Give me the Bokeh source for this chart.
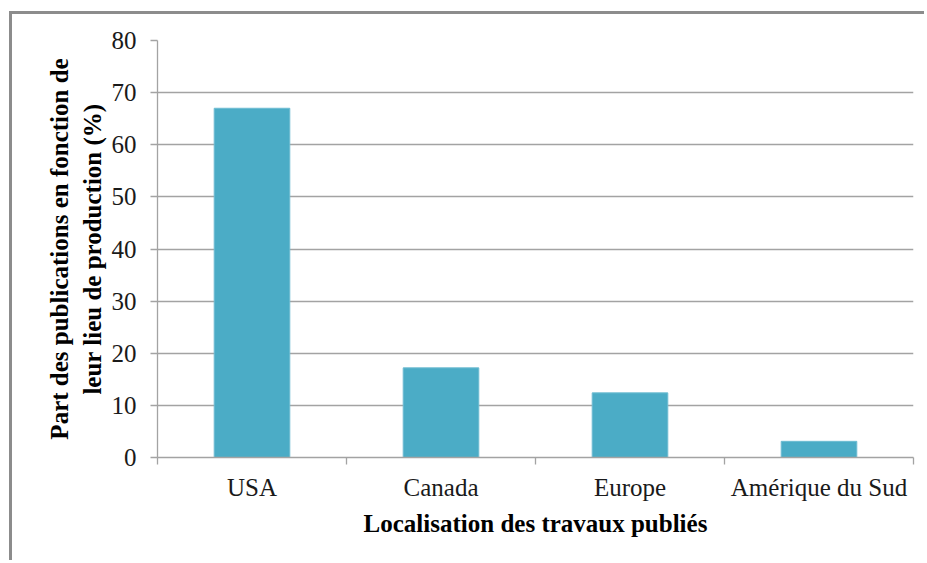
from bokeh.plotting import figure
from bokeh.models import Range1d, LinearAxis, FixedTicker, ColumnDataSource
from bokeh.embed import file_html
from bokeh.resources import INLINE

categories = ["USA", "Canada", "Europe", "Amérique du Sud"]
shares = [67.0, 17.2, 12.4, 3.1]
y_ticks = [0, 10, 20, 30, 40, 50, 60, 70, 80]

FONT = "Liberation Serif"
GRID = "#a3a3a3"
BAR = "#4BACC6"

n = len(categories)
centers = [i + 0.5 for i in range(n)]
edges = list(range(n + 1))

p = figure(width=915, height=549,
           x_range=Range1d(0, n),
           y_range=Range1d(0, 80),
           x_axis_location=None,
           output_backend="svg", toolbar_location=None,
           min_border_left=145, min_border_right=14,
           min_border_top=26, min_border_bottom=106)
p.styles = {"margin-left": "9px", "margin-top": "11px",
            "border-left": "3px solid #8c8c8c",
            "border-top": "3px solid #8c8c8c"}
p.outline_line_color = None
p.background_fill_color = "white"
p.border_fill_color = "white"

src = ColumnDataSource(dict(x=centers, top=shares, cat=categories))
p.vbar(x="x", top="top", width=0.4, source=src, fill_color=BAR,
       line_color="#6ebcd2", line_width=1)

# y axis
ya = p.yaxis[0]
ya.ticker = FixedTicker(ticks=y_ticks)
ya.axis_line_color = GRID
ya.axis_line_width = 1.3
ya.major_tick_line_color = GRID
ya.major_tick_line_width = 1.3
ya.major_tick_in = 0
ya.major_tick_out = 7
ya.minor_tick_line_color = None
ya.major_label_text_font = FONT
ya.major_label_text_font_size = "25px"
ya.major_label_text_color = "#1a1a1a"
ya.major_label_standoff = 14
ya.axis_label = "Part des publications en fonction de\nleur lieu de production (%)"
ya.axis_label_text_font = FONT
ya.axis_label_text_font_size = "25px"
ya.axis_label_text_font_style = "bold"
ya.axis_label_text_color = "black"
ya.axis_label_standoff = 3

p.ygrid.ticker = FixedTicker(ticks=y_ticks)
p.ygrid.grid_line_color = GRID
p.ygrid.grid_line_width = 1.3
p.xgrid.grid_line_color = None

# x axis: boundary ticks, no labels
edge_axis = LinearAxis(ticker=FixedTicker(ticks=edges),
                       major_label_overrides={e: "" for e in edges},
                       axis_line_color=GRID, axis_line_width=1.3,
                       major_tick_line_color=GRID, major_tick_line_width=1.3,
                       major_tick_in=0, major_tick_out=7,
                       minor_tick_line_color=None,
                       major_label_text_font_size="1px",
                       major_label_text_color=None,
                       major_label_standoff=0)
p.add_layout(edge_axis, "below")

# x axis: category labels at centres
cat_axis = LinearAxis(ticker=FixedTicker(ticks=centers),
                      major_label_overrides={c: name for c, name in zip(centers, categories)},
                      axis_line_color=None, major_tick_line_color=None,
                      minor_tick_line_color=None,
                      major_tick_in=0, major_tick_out=0,
                      major_label_text_font=FONT,
                      major_label_text_font_size="25px",
                      major_label_text_color="#1a1a1a",
                      major_label_standoff=9,
                      axis_label="Localisation des travaux publiés",
                      axis_label_text_font=FONT,
                      axis_label_text_font_size="25px",
                      axis_label_text_font_style="bold",
                      axis_label_text_color="black",
                      axis_label_standoff=6)
p.add_layout(cat_axis, "below")

open("out.html", "w").write(file_html(p, INLINE))
